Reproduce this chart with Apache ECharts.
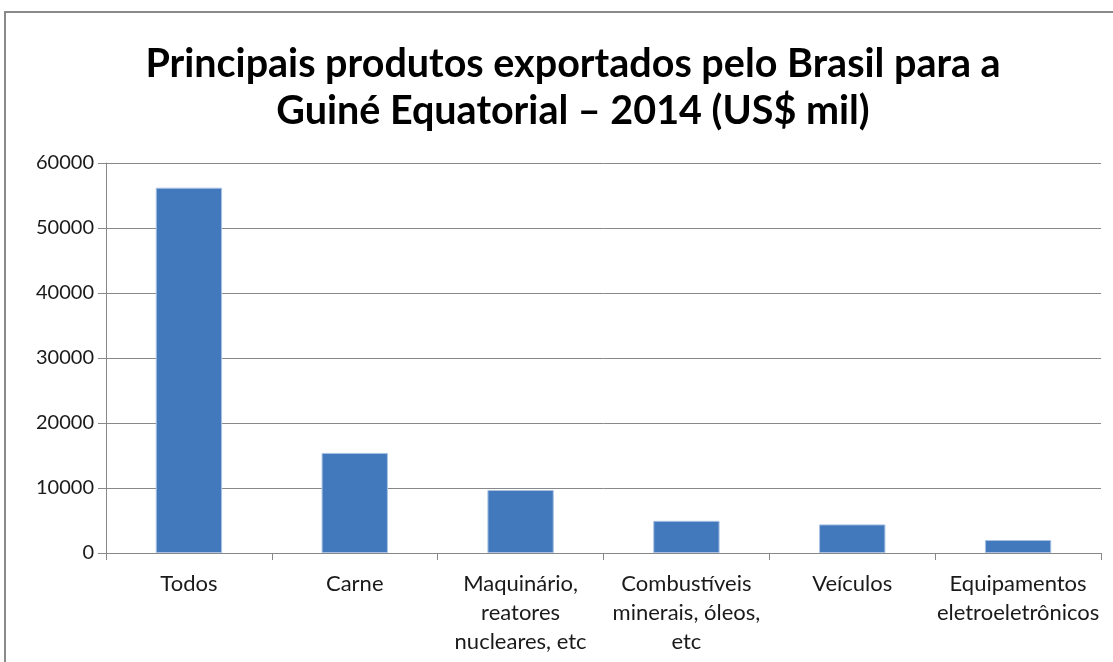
<!DOCTYPE html>
<html>
<head>
<meta charset="utf-8">
<script src="https://cdn.jsdelivr.net/npm/echarts@6/dist/echarts.min.js"></script>
<style>
html,body{margin:0;padding:0;background:#fff;}
#chart{width:1113px;height:662px;}
</style>
</head>
<body>
<div id="chart"></div>
<script>
const titleText = "Principais produtos exportados pelo Brasil para a\nGuiné Equatorial – 2014 (US$ mil)";
const categories = ["Todos", "Carne", "Maquinário,\nreatores\nnucleares, etc", "Combustíveis\nminerais, óleos,\netc", "Veículos", "Equipamentos\neletroeletrônicos"];
const values = [56200, 15400, 9700, 4950, 4400, 2000];
const yTicks = {min: 0, max: 60000, interval: 10000};

const chart = echarts.init(document.getElementById('chart'), null, {renderer: 'canvas'});
chart.setOption({
  backgroundColor: '#ffffff',
  animation: false,
  graphic: [{
    type: 'rect',
    shape: {x: 5, y: 12, width: 1130, height: 700},
    style: {fill: 'none', stroke: '#8a8a8a', lineWidth: 2},
    silent: true,
    z: -1
  }],
  title: {
    text: titleText,
    left: 568,
    textAlign: 'center',
    top: 36,
    textStyle: {
      fontFamily: 'Lato',
      fontWeight: 'bold',
      fontSize: 39.5,
      lineHeight: 47,
      color: '#000000'
    }
  },
  grid: {left: 106, right: 12, top: 163, bottom: 109, containLabel: false},
  xAxis: {
    type: 'category',
    data: categories,
    axisLine: {show: true, lineStyle: {color: '#888888', width: 1}},
    axisTick: {show: true, length: 7, alignWithLabel: false, lineStyle: {color: '#888888'}},
    axisLabel: {
      interval: 0,
      fontFamily: 'Lato',
      fontSize: 22,
      lineHeight: 29,
      color: '#1a1a1a',
      margin: 16
    }
  },
  yAxis: {
    type: 'value',
    min: yTicks.min,
    max: yTicks.max,
    interval: yTicks.interval,
    axisLine: {show: true, lineStyle: {color: '#888888', width: 1}},
    axisTick: {show: true, length: 8, lineStyle: {color: '#888888'}},
    splitLine: {show: true, lineStyle: {color: '#888888', width: 1}},
    axisLabel: {
      fontFamily: 'Lato',
      fontSize: 20,
      color: '#1a1a1a',
      margin: 12,
      formatter: function (v) { return String(v); }
    }
  },
  series: [{
    type: 'bar',
    data: values,
    barWidth: '40%',
    itemStyle: {color: '#4279bd', borderColor: '#a9c1e2', borderWidth: 1}
  }]
});
</script>
</body>
</html>
